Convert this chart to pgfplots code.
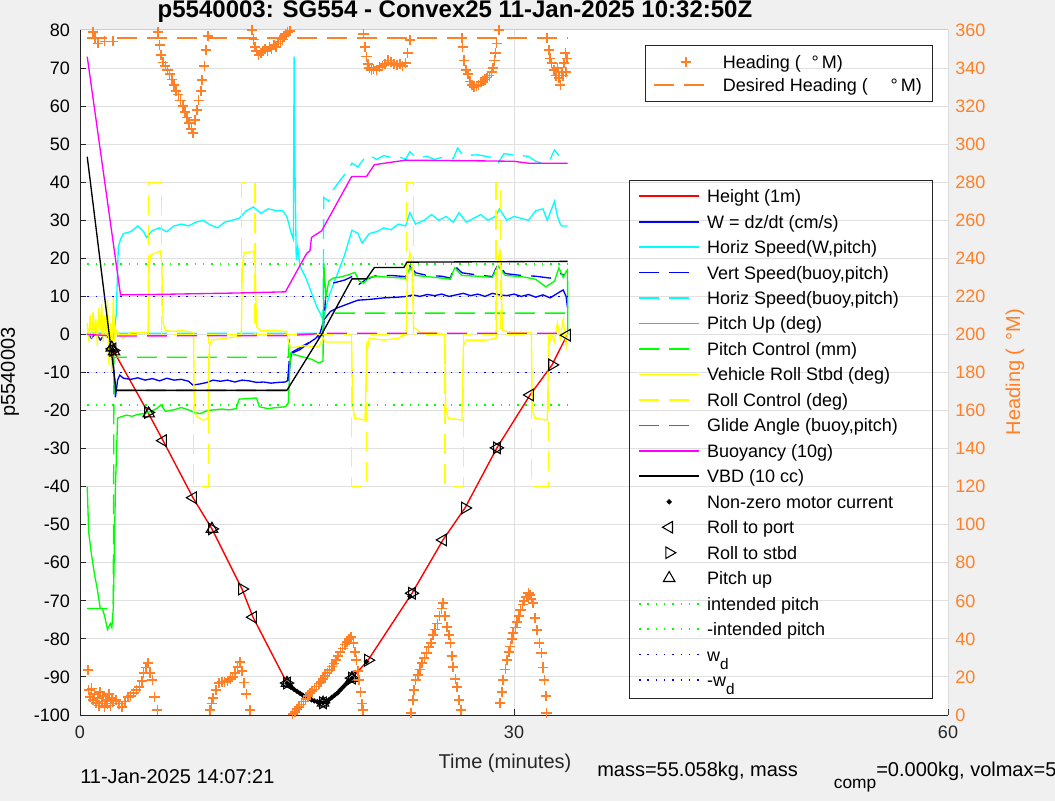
\documentclass[border=0pt]{standalone}
\PassOptionsToPackage{rgb}{xcolor}
\usepackage{fontspec}
\setmainfont{Liberation Sans}
\usepackage{pgfplots}
\pgfplotsset{compat=1.18}
\definecolor{hdg}{rgb}{1,0.5,0.15}
\definecolor{figbg}{rgb}{0.94,0.94,0.94}
\definecolor{gridc}{rgb}{0.88,0.88,0.88}
\definecolor{framec}{rgb}{0.8,0.8,0.8}
\definecolor{axc}{rgb}{0.15,0.15,0.15}
\definecolor{mred}{rgb}{1,0,0}
\definecolor{mblue}{rgb}{0,0,1}
\definecolor{mcyan}{rgb}{0,1,1}
\definecolor{mgreen}{rgb}{0,1,0}
\definecolor{myellow}{rgb}{1,1,0}
\definecolor{mmag}{rgb}{1,0,1}
\definecolor{mblack}{rgb}{0,0,0}
\newcommand\ff{\fontsize{13.5pt}{16pt}\selectfont}
\newcommand\fl{\fontsize{15pt}{18pt}\selectfont}
\pgfplotsset{
  commonax/.style={
    at={(60pt,64.5pt)}, anchor=south west, scale only axis,
    width=651pt, height=513.75pt,
    xmin=0, xmax=60,
    font=\ff,
    /pgf/number format/assume math mode=true,
    legend cell align=left,
  },
  linleg/.style={legend image code/.code={\draw[##1, line width=1.3pt, mark repeat=2, mark phase=2] plot coordinates {(0pt,0pt) (22.5pt,0pt) (45pt,0pt)};}},
  linlegB/.style={legend image code/.code={\draw[##1, line width=1.3pt, mark repeat=2, mark phase=2] plot coordinates {(0pt,0pt) (20.25pt,0pt) (40.5pt,0pt)};}},
  markleg/.style={legend image code/.code={\draw[##1] plot coordinates {(22.5pt,0pt)};}},
  marklegB/.style={legend image code/.code={\draw[##1] plot coordinates {(24pt,0pt)};}},
  mdash/.style={dash pattern=on 15pt off 7.5pt},
  mdot/.style={dash pattern=on 1.1pt off 5.1pt},
}
\begin{document}
\begin{tikzpicture}
\path[use as bounding box] (0,0) rectangle (791.25pt,600.75pt);
\clip (0,0) rectangle (791.25pt,600.75pt);
\fill[figbg] (0,0) rectangle (791.25pt,600.75pt);
\fill[white] (60pt,64.5pt) rectangle (711pt,578.25pt);
\begin{axis}[commonax,
  ymin=-100, ymax=80,
  xtick={0,30,60}, ytick={-100,-90,...,80},
  xmajorgrids, ymajorgrids,
  grid style={draw=gridc, line width=0.75pt},
  axis line style={draw=none},
  tick align=inside, xtick pos=left, ytick pos=left,
  major tick length=4.5pt,
  every tick/.style={draw=axc, line width=0.75pt},
  yticklabel style={text=mblack, xshift=-4pt},
  xticklabel style={text=axc, yshift=-5pt},
  legend style={at={(0.6429,0.7764)}, anchor=north west, draw=none, fill=none,
     inner xsep=0pt, inner ysep=0pt, column sep=5.25pt, row sep=0pt,
     nodes={inner xsep=0pt, inner ysep=0pt, text height=14.4pt, text depth=4.7pt}, font=\ff},
  linleg,
  every axis plot/.append style={line width=1pt},
]
% Height
\addplot[draw=mred, line width=1.05pt] coordinates {(2.2,-3.5) (2.3,-4.2) (4.70,-20.5) (5.74,-27.9) (7.81,-42.9) (9.12,-51.1) (11.20,-66.9) (11.96,-74.3) (14.31,-91.6) (14.6,-92.7) (15.0,-93.8) (15.4,-94.8) (15.8,-95.6) (16.2,-96.3) (16.6,-96.7) (16.8,-96.8) (17.2,-96.0) (17.6,-94.8) (18.0,-93.4) (18.4,-91.8) (18.8,-90.3) (19.91,-85.6) (22.95,-68.0) (25.09,-54.0) (26.61,-45.6) (28.82,-29.8) (31.11,-15.9) (32.63,-8.0) (33.66,-0.2)};
\addlegendentry{Height (1m)}
% W
\addplot[draw=mblue] coordinates {(0.5,0.3) (0.8,-1) (1.1,0.5) (1.4,-1.5) (1.7,0) (2.0,-1) (2.2,-1.5) (2.35,-10) (2.45,-16.5) (2.6,-12) (2.75,-10.7) (3.0,-11.5) (3.5,-11.8) (4.0,-11.4) (4.5,-12) (5.0,-11.6) (5.5,-12.2) (6.0,-11.5) (6.5,-12) (7.0,-11.8) (7.5,-12.3) (7.8,-13.3) (8.3,-13) (8.8,-12.6) (9.2,-12) (9.7,-12.3) (10.2,-12) (10.7,-12.5) (11.2,-12) (11.7,-12.2) (12.2,-12.6) (12.7,-12.5) (13.2,-12.8) (13.7,-12.6) (14.2,-12.5) (14.4,-12) (14.6,-5) (15.2,-4) (15.8,-2.3) (16.3,-1) (16.6,0.4) (16.85,3.8) (17.3,6) (17.8,7) (18.5,8) (19.2,9) (20,9.2) (21,9.6) (22,9.8) (22.6,10) (23,10.4) (23.5,10) (24,10.5) (24.5,10.2) (25,10.6) (25.5,10) (26,10.4) (26.5,10.8) (27,10.2) (27.5,10.6) (28,10) (28.5,10.8) (29,10.4) (29.5,10.2) (30,10.6) (30.5,10) (31,10.5) (31.5,9.8) (32,10.4) (32.5,9.6) (33,10.8) (33.4,11.7) (33.6,10) (33.7,7)};
\addlegendentry{W = dz/dt (cm/s)}
% Horiz speed W,pitch
\addplot[draw=mcyan] coordinates {(0.5,0) (1,0.5) (2,0) (2.3,-1) (2.5,5) (2.65,23) (2.8,25) (3.0,26.5) (3.5,27) (4.0,28.5) (4.4,27) (4.6,25.5) (5.0,27.3) (5.5,28) (6.0,27) (6.5,28.5) (7.0,29) (7.5,28.5) (8.0,29.5) (8.5,30) (9.0,28.8) (9.5,28) (10,29.5) (10.5,30) (11.0,30.5) (11.5,32.5) (12.0,33.5) (12.5,31.8) (13,33) (13.5,32.6) (14.0,32.5) (14.3,31) (14.6,26.6) (14.75,25) (14.8,73) (14.87,40) (14.95,19.5) (15.05,23) (15.2,18) (15.6,15) (16.0,11) (16.4,7) (16.6,5.6) (16.8,3.8) (17.2,10) (17.8,16) (18.3,21) (18.8,27.4) (19.2,26.6) (19.5,24) (20,26.5) (20.5,27) (21,28) (21.5,27.5) (22,29) (22.5,28.5) (22.8,32) (23.2,29) (23.8,30) (24.3,31.5) (24.8,30) (25.3,31) (25.8,29.5) (26.2,32) (26.7,29.5) (27.2,30.5) (27.7,31.5) (28.2,30) (28.7,31) (29.0,33) (29.5,30) (30,31) (30.5,30.5) (31,30) (31.5,32.5) (32.0,33) (32.3,30) (32.6,33) (32.8,35) (33.0,31) (33.2,29) (33.3,28.5) (33.7,28.5)};
\addlegendentry{Horiz Speed(W,pitch)}
% Vert speed buoy
\addplot[draw=mblue, mdash] coordinates {(2.5,-14.7) (14.3,-14.7) (14.5,-5) (16.8,0) (17.0,11) (17.5,13.5) (18.3,14.3) (18.8,15.2) (19.3,13.2) (19.8,14.5) (20.5,15.5) (21.5,15.5) (22.5,15.2) (22.8,18) (23.2,16.2) (24,15.5) (25,15.3) (25.6,14.8) (25.9,18) (26.4,16.2) (27.5,15.6) (28.5,15.2) (28.9,18.5) (29.4,16) (30.5,15.5) (31.5,15.3) (32.5,14.8) (33.2,16) (33.5,15.5)};
\addlegendentry{Vert Speed(buoy,pitch)}
% Horiz speed buoy
\addplot[draw=mcyan, mdash] coordinates {(0.5,0.3) (16.8,0.3) (16.85,36) (17.2,35) (17.5,38) (18,40.6) (18.5,43) (18.8,45) (19.2,44) (19.6,46) (20,47.1) (20.5,46) (21,47) (21.5,46.5) (22,46.8) (22.5,46) (22.8,48) (23.2,46.5) (24,46.8) (24.5,46) (25,46.5) (25.8,46.2) (26.1,49) (26.5,47) (27.5,47.2) (28.5,46.5) (28.9,45) (29.3,47.5) (30,47.2) (31,46.8) (31.5,45.5) (32,45) (32.5,46) (32.8,48.5) (33.1,47)};
\addlegendentry{Horiz Speed(buoy,pitch)}
% Pitch up
\addplot[draw=mgreen] coordinates {(0.5,-40) (0.6,-52) (0.8,-58) (1.0,-63) (1.2,-67) (1.4,-72) (1.55,-72) (1.7,-74) (1.9,-77.5) (2.1,-76) (2.2,-77) (2.3,-72) (2.45,-40) (2.6,-22) (2.8,-21.7) (3.2,-21.2) (3.6,-21.5) (4.0,-21) (4.5,-20.8) (4.9,-20.2) (5.3,-19.5) (5.6,-18.5) (5.9,-20.2) (6.5,-19.8) (7.0,-19.2) (7.5,-19.8) (7.9,-20.5) (8.3,-20.8) (8.8,-20) (9.3,-19.8) (9.8,-19.6) (10.3,-19.8) (10.8,-19.5) (11.0,-17) (12.2,-16.7) (12.4,-19) (13.0,-19.5) (13.6,-19.2) (14.2,-19) (14.4,-18) (14.55,-4.9) (15.0,-5.5) (15.5,-6) (16.0,-6.5) (16.5,-7.5) (16.8,-7) (16.85,18.8) (17.0,10) (17.2,14) (17.5,14.8) (18,15.1) (18.5,15.6) (19.0,16.3) (19.3,14) (19.6,13.5) (20,15) (20.5,15.3) (21.5,15) (22.5,14.8) (22.8,17.5) (23.2,15.5) (24,15.2) (25,14.8) (25.6,14.5) (25.9,17.5) (26.4,15.5) (27.5,15.3) (28.5,15) (28.9,18) (29.4,15.5) (30.5,15.2) (31.5,14.5) (32.2,12.5) (32.8,14) (33.1,17.5) (33.4,15) (33.6,16.5) (33.7,17) (33.72,0)};
\addlegendentry{Pitch Up (deg)}
% Pitch control
\addplot[draw=mgreen, mdash] coordinates {(0.5,-72) (2.3,-72) (2.35,-6) (14.4,-6) (14.5,0) (16.8,0) (16.85,5.6) (33.6,5.6)};
\addlegendentry{Pitch Control (mm)}
% Vehicle roll
\addplot[draw=myellow] coordinates {(0.5,3) (0.6,-2) (0.7,5) (0.8,-1) (0.9,6) (1.0,0) (1.1,4) (1.2,-3) (1.3,7) (1.4,1) (1.5,8) (1.6,-2) (1.7,5) (1.8,-1) (1.9,9) (2.0,-8) (2.1,3) (2.2,-10) (2.3,10) (2.4,-2) (2.5,1) (2.7,0) (3.0,-1) (3.5,0.5) (4.0,0.5) (4.7,0.5) (4.78,18) (4.9,21) (5.3,21.5) (5.55,22) (5.65,19) (5.75,3) (5.9,1) (6.5,0.8) (7.0,1) (7.5,0.8) (7.85,0.5) (7.9,-19) (8.05,-21.5) (8.5,-22.5) (8.85,-22) (8.95,-3) (9.1,-1.5) (10,-1) (11.15,-0.5) (11.22,18) (11.35,21.5) (12.0,21.8) (12.1,19) (12.2,2) (12.5,1) (13.5,1) (14.3,0.8) (14.4,-2) (14.6,-3.5) (15.5,-3) (16.5,-3.2) (16.8,-1) (17.0,-2) (18.0,-2) (18.78,-2) (18.85,-19) (19.0,-22) (19.7,-22.5) (19.82,-5) (20,-1) (21,-1.5) (22,-1) (22.55,0) (22.65,18) (22.8,21.5) (22.95,19) (23.05,2) (23.5,0.5) (24.5,0.5) (25.2,0) (25.28,-19) (25.45,-22) (26.4,-22.5) (26.5,-3) (26.7,-1.5) (28,-1.5) (28.76,-1) (28.85,18) (29.0,22) (29.1,18) (29.2,1) (30,0.5) (31.2,0.5) (31.27,-20) (31.45,-22) (32.3,-22.5) (32.4,-3) (32.6,0) (32.8,-2) (33.0,3) (33.2,-1) (33.4,4) (33.6,-3) (33.7,1)};
\addlegendentry{Vehicle Roll Stbd (deg)}
% Roll control
\addplot[draw=myellow, mdash] coordinates {(0.5,0) (4.72,0) (4.72,40) (5.65,40) (5.65,0) (7.83,0) (7.83,-40) (8.87,-40) (8.87,0) (11.18,0) (11.18,40) (12.1,40) (12.1,0) (18.78,0) (18.78,-40) (19.82,-40) (19.82,0) (22.58,0) (22.58,40) (23.04,40) (23.04,0) (25.23,0) (25.23,-40) (26.5,-40) (26.5,0) (28.76,0) (28.76,40) (29.08,40) (29.08,0) (31.22,0) (31.22,-40) (32.37,-40) (32.37,0) (33.7,0)};
\addlegendentry{Roll Control (deg)}
% Glide angle
\addplot[draw=mmag, mdash] coordinates {(0.5,0) (2.5,-0.4) (14.4,-0.3) (16.8,0.3) (33.7,0.3)};
\addlegendentry{Glide Angle (buoy,pitch)}
% Buoyancy
\addplot[draw=mmag] coordinates {(0.5,73) (2.8,10.4) (5,10.5) (8,10.7) (11,10.9) (14.2,11.2) (15.67,21.3) (15.9,22) (16.0,25.5) (16.2,26) (16.7,27.2) (18.78,41.5) (19.8,41.5) (20.35,44.6) (22.5,45.8) (28,45.6) (30,45.5) (31,45) (33.7,45)};
\addlegendentry{Buoyancy (10g)}
% VBD
\addplot[draw=mblack] coordinates {(0.5,46.7) (2.5,-14.7) (14.3,-14.7) (16.7,0) (18.8,14.6) (19.8,14.6) (20.35,17.6) (22.4,17.6) (22.6,19) (33.7,19.2)};
\addlegendentry{VBD (10 cc)}
% motor current
\addplot[only marks, mark=*, mark size=1.4pt, draw=mblack, fill=mblack, markleg] coordinates {(2.3,-4.2) (14.31,-91.6) (14.4,-92.0) (14.6,-92.7) (14.8,-93.3) (15.0,-93.8) (15.2,-94.3) (15.4,-94.8) (15.6,-95.2) (15.8,-95.6) (16.0,-96.0) (16.2,-96.3) (16.4,-96.5) (16.6,-96.7) (16.8,-96.8) (17.0,-96.5) (17.2,-96.0) (17.4,-95.4) (17.6,-94.8) (17.8,-94.2) (18.0,-93.4) (18.2,-92.6) (18.4,-91.8) (18.6,-91.0) (18.8,-90.3) (19.8,-86.0) (22.8,-68.8)};
\addlegendentry{Non-zero motor current}
% roll to port
\addplot[only marks, mark=triangle, mark size=5pt, mark options={rotate=90}, draw=mblack, line width=0.8pt, markleg] coordinates {(2.25,-3.8) (5.74,-27.9) (7.81,-42.9) (11.96,-74.3) (14.31,-91.6) (16.8,-96.8) (18.8,-90.3) (22.95,-68.0) (25.09,-54.0) (28.82,-29.8) (31.11,-15.9) (33.66,-0.2)};
\addlegendentry{Roll to port}
% roll to stbd
\addplot[only marks, mark=triangle, mark size=5pt, mark options={rotate=-90}, draw=mblack, line width=0.8pt, markleg] coordinates {(2.3,-4.2) (4.70,-20.5) (9.12,-51.1) (11.20,-66.9) (14.31,-91.6) (16.8,-96.8) (18.8,-90.3) (19.91,-85.6) (22.95,-68.0) (26.61,-45.6) (28.82,-29.8) (32.63,-8.0)};
\addlegendentry{Roll to stbd}
% pitch up
\addplot[only marks, mark=triangle, mark size=5pt, draw=mblack, line width=0.8pt, markleg] coordinates {(2.2,-3.5) (2.35,-4.5) (4.75,-20.8) (9.12,-51.1) (14.31,-91.6) (16.8,-96.8) (18.8,-90.3)};
\addlegendentry{Pitch up}
\addplot[draw=mgreen, mdot] coordinates {(0.5,18.5) (33.7,18.5)};
\addlegendentry{intended pitch}
\addplot[draw=mgreen, mdot] coordinates {(0.5,-18.5) (33.7,-18.5)};
\addlegendentry{-intended pitch}
\addplot[draw=mblue, mdot] coordinates {(0.5,10) (33.7,10)};
\addlegendentry{w\raisebox{-6pt}{\fontsize{11.5pt}{12pt}\selectfont d}}
\addplot[draw=mblue, mdot] coordinates {(0.5,-10) (33.7,-10)};
\addlegendentry{-w\raisebox{-6pt}{\fontsize{11.5pt}{12pt}\selectfont d}}
% frame
\draw[draw=axc, line width=0.75pt] (rel axis cs:0,1) -- (rel axis cs:0,0) -- (rel axis cs:1,0);
\draw[draw=framec, line width=0.75pt] (rel axis cs:0,1) -- (rel axis cs:1,1) -- (rel axis cs:1,0);
\draw[draw=axc, line width=0.75pt] (rel axis cs:0.633,0.781) rectangle (rel axis cs:0.9816,0.0248);
\end{axis}
\begin{axis}[commonax,
  ymin=0, ymax=360, ytick={0,20,...,360},
  axis x line=none, axis y line*=right,
  axis line style={draw=none},
  major tick length=0pt,
  yticklabel style={text=hdg, xshift=2pt},
  legend style={at={(0.660,0.970)}, anchor=north west, draw=none, fill=none,
     inner xsep=0pt, inner ysep=0pt, column sep=10.5pt, row sep=0pt,
     nodes={inner xsep=0pt, inner ysep=0pt, text height=13.5pt, text depth=3.7pt}, font=\ff},
  linlegB,
  every axis plot/.append style={line width=1.2pt},
]
\addplot[only marks, mark=+, draw=hdg, mark size=3.8pt, mark options={draw=hdg}, marklegB] coordinates {
(0.55,23.6) (0.6,13) (0.7,9.5) (0.8,14) (0.9,8) (1.0,11) (1.1,6.3) (1.2,9) (1.3,5) (1.4,12) (1.5,7) (1.6,10) (1.7,4.2) (1.8,8) (1.9,6) (2.0,11) (2.1,5) (2.2,9) (2.3,7) (0.9,359) (1.05,356) (1.25,353) (1.7,354) (2.3,354)
(2.5,8) (2.7,6) (2.9,4.2) (3.1,7) (3.3,9.5) (3.5,10) (3.7,11.6) (3.9,13) (4.1,14.7) (4.3,18) (4.4,22) (4.55,25) (4.7,27.3) (4.85,22) (5.0,18.4) (5.15,9.5) (5.35,2.6)
(5.4,359) (5.5,352) (5.6,347) (5.75,343) (5.9,341) (6.05,339) (6.2,337) (6.35,334) (6.5,331) (6.65,328) (6.8,326) (6.95,323) (7.1,320) (7.25,317) (7.4,314) (7.55,311) (7.7,308) (7.8,306) (7.95,312.7) (8.1,318) (8.2,323) (8.35,328) (8.45,333.7) (8.6,341) (8.7,349.5) (8.85,357)
(9.0,2.6) (9.1,6) (9.2,9) (9.4,13) (9.6,16.8) (9.8,17.2) (10.0,17.5) (10.2,18) (10.4,19) (10.55,20) (10.7,22) (10.9,25.2) (11.06,27.9) (11.2,23) (11.35,17) (11.5,11) (11.75,2.6)
(11.9,360) (12.0,355) (12.1,351) (12.2,349) (12.35,347) (12.5,348) (12.65,349) (12.8,350) (12.95,349) (13.1,351) (13.25,350) (13.4,352) (13.55,351) (13.7,353) (13.85,354) (14.0,355) (14.1,357) (14.2,358) (14.35,359) (14.5,359.5)
(14.7,0.5) (14.85,1.5) (15.0,3) (15.15,4.2) (15.3,5.5) (15.45,7) (15.6,8.5) (15.75,10) (15.9,11.6) (16.05,12.5) (16.2,13.5) (16.35,15) (16.5,16.5) (16.65,17.5) (16.8,19) (16.95,20.5) (17.1,22) (17.25,23.5) (17.4,25.5) (17.55,27) (17.7,29) (17.85,31) (18.0,33) (18.15,35) (18.3,37) (18.45,38.5) (18.6,40) (18.75,41) (18.9,38) (19.0,33) (19.1,28.9) (19.2,23) (19.3,18.4) (19.4,12) (19.5,6) (19.55,2.6)
(19.6,358) (19.7,351) (19.8,346) (19.9,342) (20.0,340) (20.15,339) (20.3,339.5) (20.5,339) (20.7,340.5) (20.9,341) (21.1,342) (21.3,344) (21.5,343) (21.7,342) (21.9,341.6) (22.1,342) (22.3,341) (22.5,342.6) (22.65,348) (22.8,354.7)
(22.9,1) (23.0,8) (23.1,13) (23.2,18.4) (23.35,21) (23.5,24) (23.65,27.3) (23.8,30) (23.95,32.5) (24.1,35.7) (24.25,38) (24.4,42) (24.55,45) (24.7,48) (24.85,52) (25.0,56) (25.1,58.9) (25.25,52) (25.35,46.2) (25.5,42) (25.6,37.8) (25.7,31) (25.8,25.2) (25.95,19) (26.05,14.7) (26.2,8) (26.35,2.6)
(26.4,356) (26.45,351) (26.55,344) (26.7,339) (26.8,337) (26.95,333) (27.1,331) (27.25,330) (27.4,330.5) (27.55,331) (27.7,332.6) (27.85,333) (28.0,334) (28.15,335) (28.3,336) (28.45,338) (28.55,340) (28.65,344) (28.72,348) (28.8,353) (28.95,360)
(29.05,6.3) (29.15,12) (29.25,18.4) (29.4,24) (29.5,28.9) (29.65,33) (29.75,36) (29.85,40) (29.95,43) (30.1,46) (30.2,49) (30.35,52) (30.45,55.2) (30.6,58) (30.7,60) (30.85,62) (31.0,64) (31.1,63) (31.2,61) (31.3,58.9) (31.45,51) (31.6,44.7) (31.75,38) (31.9,32.6) (32.0,25) (32.1,18.4) (32.2,10) (32.25,1)
(32.3,356) (32.4,349.5) (32.5,345) (32.6,342.6) (32.75,339) (32.9,336) (33.0,340) (33.1,334.8) (33.2,331) (33.3,338) (33.4,336) (33.45,342.6) (33.55,348) (33.6,338) (33.65,345)};
\addlegendentry{Heading (\hspace{8pt}°\,M)}
\addplot[draw=hdg, mdash, line width=1.4pt] coordinates {(0.5,356) (33.7,356)};
\addlegendentry{Desired Heading (\hspace{17pt}°\,M)}
\draw[draw=axc, line width=0.75pt] (rel axis cs:0.652,0.978) rectangle (rel axis cs:0.9816,0.8949);
\end{axis}
\node[font=\fontsize{18pt}{21pt}\selectfont\bfseries, anchor=base, text=mblack] at (341.25pt,587.25pt) {p5540003: SG554 - Convex25 11-Jan-2025 10:32:50Z};
\node[font=\fl, rotate=90, text=mblack] at (7.5pt,321.75pt) {p5540003};
\node[font=\fl, rotate=90, text=hdg] at (761.25pt,321.75pt) {Heading (\hspace{6pt}°M)};
\node[font=\fl, text=axc] at (378.75pt,28.5pt) {Time (minutes)};
\node[font=\fl, anchor=west, inner sep=0pt, text=mblack] at (60pt,18pt) {11-Jan-2025 14:07:21};
\node[font=\fl, anchor=west, inner sep=0pt, text=mblack] at (447.75pt,18pt) {mass=55.058kg, mass\hspace{27pt}\raisebox{-9pt}{\fontsize{13pt}{13pt}\selectfont comp}=0.000kg, volmax=5};
\end{tikzpicture}
\end{document}
